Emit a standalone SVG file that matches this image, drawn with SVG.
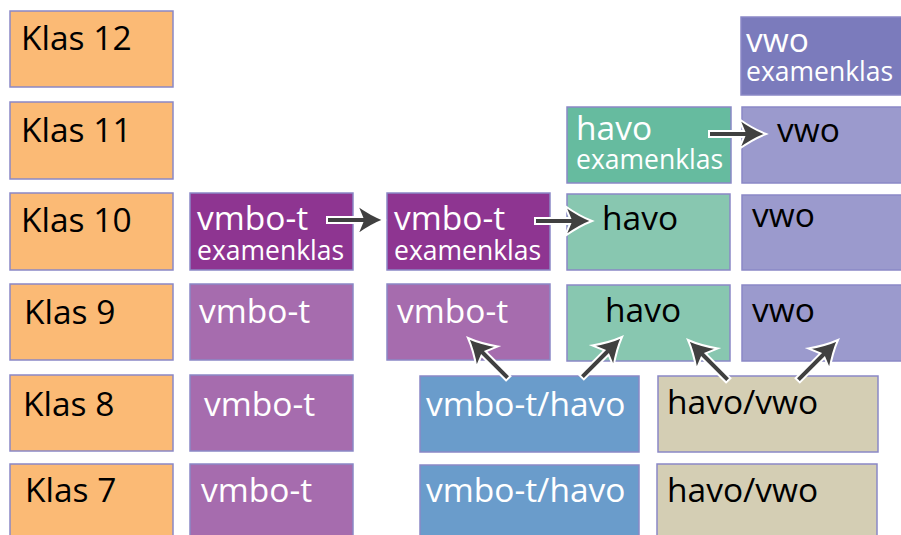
<svg xmlns="http://www.w3.org/2000/svg" xmlns:xlink="http://www.w3.org/1999/xlink" width="901" height="535" viewBox="0 0 901 535">
<style>
rect{stroke:#8A88C6;stroke-width:1.5}
text{font-family:"Open Sans","Noto Sans","DejaVu Sans",sans-serif;font-size:33.5px}
.sm{font-size:26.5px}
.w{fill:#FFFFFF}
.b{fill:#000000}
.klas{fill:#FBBA75}
.vdk{fill:#8E3591}
.vl{fill:#A66CAE}
.hdk{fill:#66BB9F}
.hl{fill:#88C7B0}
.wdk{fill:#7B7BBC}
.wl{fill:#9B9ACD}
.bl{fill:#6A9CCB}
.be{fill:#D4CEB4}
.arr{fill:#404040;stroke:#FFFFFF;stroke-width:2;stroke-linejoin:miter}
</style>
<defs>
<path id="arrow" class="arr" d="M-57,-3 L-22,-3 L-27,-15 Q-13,-5 0,0 Q-13,5 -27,15 L-22,3 L-57,3 Z"/>
</defs>
<rect width="901" height="535" fill="#FFFFFF" style="stroke:none"/>
<g id="klas12"><rect class="klas" x="10" y="11" width="163" height="76"/><text class="b" x="21" y="50">Klas 12</text></g>
<g id="klas11"><rect class="klas" x="10" y="102" width="163" height="77"/><text class="b" x="21" y="142">Klas 11</text></g>
<g id="klas10"><rect class="klas" x="10" y="193" width="163" height="77"/><text class="b" x="21" y="232">Klas 10</text></g>
<g id="klas9"><rect class="klas" x="10" y="284" width="163" height="76"/><text class="b" x="24" y="324">Klas 9</text></g>
<g id="klas8"><rect class="klas" x="10" y="375" width="163" height="76"/><text class="b" x="23" y="416">Klas 8</text></g>
<g id="klas7"><rect class="klas" x="10" y="464" width="163" height="76"/><text class="b" x="25" y="502">Klas 7</text></g>

<g id="vmbo10a"><rect class="vdk" x="190" y="193" width="163" height="77"/><text class="w" x="197" y="230">vmbo-t</text><text class="w sm" x="197" y="260">examenklas</text></g>
<g id="vmbo10b"><rect class="vdk" x="387" y="193" width="163" height="77"/><text class="w" x="394" y="230">vmbo-t</text><text class="w sm" x="394" y="260">examenklas</text></g>
<g id="vmbo9a"><rect class="vl" x="190" y="284" width="163" height="76"/><text class="w" x="199" y="323">vmbo-t</text></g>
<g id="vmbo9b"><rect class="vl" x="387" y="284" width="163" height="76"/><text class="w" x="397" y="323">vmbo-t</text></g>
<g id="vmbo8"><rect class="vl" x="190" y="375" width="163" height="76"/><text class="w" x="204" y="416">vmbo-t</text></g>
<g id="vmbo7"><rect class="vl" x="190" y="464" width="163" height="76"/><text class="w" x="201" y="502">vmbo-t</text></g>

<g id="havo11"><rect class="hdk" x="567" y="107" width="164" height="76"/><text class="w" x="576" y="140">havo</text><text class="w sm" x="576" y="169">examenklas</text></g>
<g id="havo10"><rect class="hl" x="567" y="194" width="163" height="76"/><text class="b" x="602" y="230">havo</text></g>
<g id="havo9"><rect class="hl" x="567" y="285" width="163" height="76"/><text class="b" x="605" y="322">havo</text></g>

<g id="vwo12"><rect class="wdk" x="741" y="17" width="162" height="78"/><text class="w" x="746" y="52">vwo</text><text class="w sm" x="746" y="81">examenklas</text></g>
<g id="vwo11"><rect class="wl" x="742" y="107" width="161" height="76"/><text class="b" x="777" y="142">vwo</text></g>
<g id="vwo10"><rect class="wl" x="742" y="195" width="161" height="75"/><text class="b" x="752" y="227">vwo</text></g>
<g id="vwo9"><rect class="wl" x="742" y="285" width="161" height="76"/><text class="b" x="752" y="322">vwo</text></g>

<g id="vh8"><rect class="bl" x="420" y="376" width="219" height="76"/><text class="w" x="426" y="416">vmbo-t/havo</text></g>
<g id="vh7"><rect class="bl" x="420" y="465" width="219" height="76"/><text class="w" x="426" y="502">vmbo-t/havo</text></g>
<g id="hv8"><rect class="be" x="658" y="376" width="220" height="76"/><text class="b" x="667" y="414">havo/vwo</text></g>
<g id="hv7"><rect class="be" x="657" y="464" width="220" height="76"/><text class="b" x="667" y="502">havo/vwo</text></g>

<g id="connectors">
<use xlink:href="#arrow" transform="translate(384,220)"/>
<use xlink:href="#arrow" transform="translate(592,221)"/>
<use xlink:href="#arrow" transform="translate(766,134)"/>
<use xlink:href="#arrow" transform="translate(468,338) rotate(-135)"/>
<use xlink:href="#arrow" transform="translate(622,337) rotate(-45)"/>
<use xlink:href="#arrow" transform="translate(688,340) rotate(-135)"/>
<use xlink:href="#arrow" transform="translate(838,340) rotate(-45)"/>
</g>
</svg>
